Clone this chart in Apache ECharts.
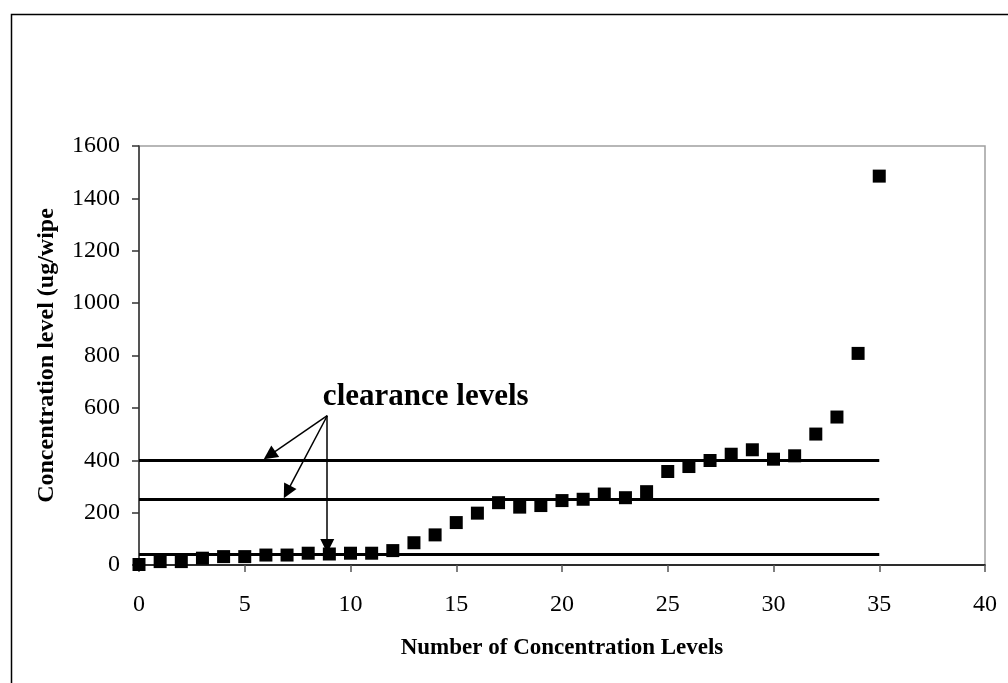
<!DOCTYPE html>
<html>
<head>
<meta charset="utf-8">
<script src="https://cdn.jsdelivr.net/npm/echarts@6/dist/echarts.min.js"></script>
<style>
html,body{margin:0;padding:0;background:#fff;}
#chart{width:1008px;height:683px;}
</style>
</head>
<body>
<div id="chart"></div>
<script>
// Data
const levelIndex = [0,1,2,3,4,5,6,7,8,9,10,11,12,13,14,15,16,17,18,19,20,21,22,23,24,25,26,27,28,29,30,31,32,33,34,35];
const concentration = [2,13,13,26,32,32,38,38,45,42,45,45,55,85,115,162,198,238,221,227,246,251,271,257,280,357,376,399,423,440,404,417,500,565,808,1485];
const clearanceLevels = [40, 250, 400];
const clearanceSpan = [0, 35];
const xTicks = [0, 40, 5];
const yTicks = [0, 1600, 200];
// annotation (data coordinates; arrow ends are the arrowhead centres)
const annotationText = 'clearance levels';
const annotationTextAt = [8.67, 642];
const arrowStart = [8.9, 570];
const arrowEnds = [[6.17, 419], [7.0, 279], [8.9, 73]];

const FONT = '"Liberation Serif", "Times New Roman", serif';

const chart = echarts.init(document.getElementById('chart'));

const clearanceLines = clearanceLevels.map(v => [
  {coord: [clearanceSpan[0], v]},
  {coord: [clearanceSpan[1], v]}
]);
const arrowLines = arrowEnds.map(e => [
  {coord: arrowStart},
  {coord: e}
]);

chart.setOption({
  backgroundColor: '#fff',
  animation: false,
  graphic: [{
    type: 'rect',
    left: 9, top: 12,
    shape: {width: 1020, height: 700},
    style: {fill: 'none', stroke: '#000', lineWidth: 1.5},
    silent: true
  }],
  grid: {
    left: 139, right: 23, top: 146, bottom: 118,
    show: true, borderColor: '#a0a0a0', borderWidth: 1.5,
    backgroundColor: 'transparent'
  },
  xAxis: {
    type: 'value',
    min: xTicks[0], max: xTicks[1], interval: xTicks[2],
    name: 'Number of Concentration Levels',
    nameLocation: 'middle',
    nameGap: 72,
    nameTextStyle: {fontFamily: FONT, fontWeight: 'bold', fontSize: 23, color: '#000'},
    axisLine: {show: true, onZero: false, lineStyle: {color: '#000', width: 1.5}},
    axisTick: {show: true, inside: false, length: 7, lineStyle: {color: '#555', width: 1.5}},
    axisLabel: {fontFamily: FONT, fontSize: 24, color: '#000', margin: 28, formatter: v => String(v)},
    splitLine: {show: false}
  },
  yAxis: {
    type: 'value',
    min: yTicks[0], max: yTicks[1], interval: yTicks[2],
    name: 'Concentration level (ug/wipe',
    nameLocation: 'middle',
    nameGap: 80,
    nameTextStyle: {fontFamily: FONT, fontWeight: 'bold', fontSize: 24, color: '#000'},
    axisLine: {show: true, onZero: false, lineStyle: {color: '#333', width: 1.5}},
    axisTick: {show: true, inside: false, length: 7, lineStyle: {color: '#333', width: 1.5}},
    axisLabel: {fontFamily: FONT, fontSize: 24, color: '#000', margin: 19, formatter: v => String(v)},
    splitLine: {show: false}
  },
  series: [{
    type: 'scatter',
    symbol: 'rect',
    symbolSize: 13,
    itemStyle: {color: '#000', opacity: 1},
    data: levelIndex.map((x, i) => [x, concentration[i]]),
    z: 5,
    markLine: {
      silent: true,
      animation: false,
      symbol: ['none', 'none'],
      label: {show: false},
      lineStyle: {color: '#000', width: 3, type: 'solid'},
      data: clearanceLines
    }
  }, {
    type: 'scatter',
    data: [],
    z: 10,
    markLine: {
      silent: true,
      animation: false,
      symbol: ['none', 'triangle'],
      symbolSize: 14,
      label: {show: false},
      itemStyle: {color: '#000'},
      lineStyle: {color: '#000', width: 1.5, type: 'solid', opacity: 1},
      data: arrowLines
    },
    markPoint: {
      silent: true,
      symbol: 'rect',
      symbolSize: 1,
      itemStyle: {color: 'transparent'},
      label: {
        show: true,
        position: 'right',
        distance: 0,
        formatter: annotationText,
        fontFamily: FONT, fontWeight: 'bold', fontSize: 31, color: '#000'
      },
      data: [{coord: annotationTextAt}]
    }
  }]
});
</script>
</body>
</html>
